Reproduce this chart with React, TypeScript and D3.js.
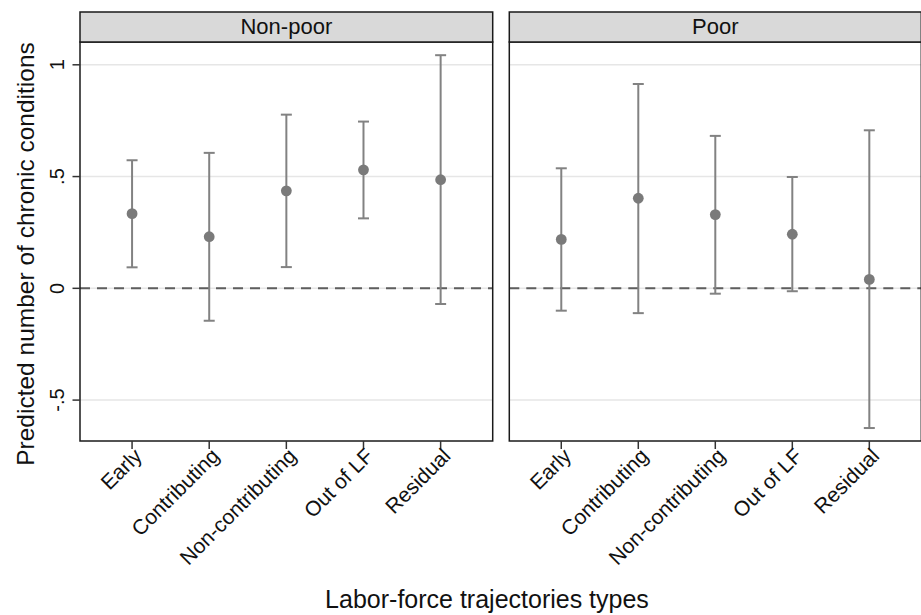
import React from "react";
import * as d3 from "d3";

// labor-force trajectory types (x categories)
const categories = ["Early", "Contributing", "Non-contributing", "Out of LF", "Residual"];
const panels = ["Non-poor", "Poor"];

// predicted number of chronic conditions, with 95% CI
const nonPoorEst = [0.334, 0.231, 0.436, 0.53, 0.486];
const nonPoorLo = [0.094, -0.145, 0.095, 0.313, -0.07];
const nonPoorHi = [0.573, 0.606, 0.777, 0.746, 1.043];

const poorEst = [0.219, 0.403, 0.33, 0.242, 0.04];
const poorLo = [-0.1, -0.111, -0.024, -0.013, -0.625];
const poorHi = [0.537, 0.914, 0.682, 0.498, 0.707];

const yTicks = [-0.5, 0, 0.5, 1];
const yTickLabels = ["-.5", "0", ".5", "1"];

const W = 921;
const H = 615;
const top = 42;
const bottom = 441;
const headerTop = 12;
const panelX = [
  [80, 492.7],
  [509.3, 921.3],
];
const FONT = "'Liberation Sans', Arial, Helvetica, sans-serif";

export default function App() {
  const y = d3.scaleLinear().domain([-0.683, 1.102]).range([bottom, top]);
  const series = [
    { est: nonPoorEst, lo: nonPoorLo, hi: nonPoorHi },
    { est: poorEst, lo: poorLo, hi: poorHi },
  ];

  return (
    <svg
      width={W}
      height={H}
      style={{ position: "absolute", left: 0, top: 0, background: "#fff", fontFamily: FONT }}
    >
      {panels.map((name, p) => {
        const [x0, x1] = panelX[p];
        const x = d3.scalePoint<string>().domain(categories).range([x0, x1]).padding(0.675);
        const s = series[p];
        return (
          <g key={name}>
            {/* grid */}
            {yTicks.map((t) => (
              <line key={t} x1={x0} x2={x1} y1={y(t)} y2={y(t)} stroke="#e6e6e6" strokeWidth={1.5} />
            ))}
            {/* zero reference */}
            <line
              x1={x0}
              x2={x1}
              y1={y(0)}
              y2={y(0)}
              stroke="#5e5e5e"
              strokeWidth={2}
              strokeDasharray="10,7"
            />
            {/* error bars */}
            {categories.map((c, i) => {
              const cx = x(c)!;
              return (
                <g key={c}>
                  <line x1={cx} x2={cx} y1={y(s.lo[i])} y2={y(s.hi[i])} stroke="#828282" strokeWidth={2} />
                  <line x1={cx - 5.5} x2={cx + 5.5} y1={y(s.lo[i])} y2={y(s.lo[i])} stroke="#828282" strokeWidth={2} />
                  <line x1={cx - 5.5} x2={cx + 5.5} y1={y(s.hi[i])} y2={y(s.hi[i])} stroke="#828282" strokeWidth={2} />
                  <circle cx={cx} cy={y(s.est[i])} r={5.4} fill="#7a7a7a" />
                </g>
              );
            })}
            {/* frame */}
            <rect x={x0} y={top} width={x1 - x0} height={bottom - top} fill="none" stroke="#1a1a1a" strokeWidth={1.5} />
            {/* header strip */}
            <rect
              x={x0}
              y={headerTop}
              width={x1 - x0}
              height={top - headerTop}
              fill="#d9d9d9"
              stroke="#1a1a1a"
              strokeWidth={1.5}
            />
            <text x={(x0 + x1) / 2} y={34} textAnchor="middle" fontSize={22} fill="#111">
              {name}
            </text>
            {/* x ticks + labels */}
            {categories.map((c) => {
              const cx = x(c)!;
              return (
                <g key={c}>
                  <line x1={cx} x2={cx} y1={bottom} y2={bottom + 8} stroke="#333" strokeWidth={1.5} />
                  <text
                    transform={`translate(${cx + 6},${bottom + 11}) rotate(-45)`}
                    textAnchor="end"
                    dy="0.35em"
                    fontSize={21}
                    fill="#111"
                  >
                    {c}
                  </text>
                </g>
              );
            })}
          </g>
        );
      })}
      {/* y axis ticks on the left panel */}
      {yTicks.map((t, i) => (
        <g key={t}>
          <line x1={72.5} x2={80} y1={y(t)} y2={y(t)} stroke="#333" strokeWidth={1.5} />
          <text
            transform={`translate(64,${y(t)}) rotate(-90)`}
            textAnchor="middle"
            fontSize={20}
            fill="#111"
          >
            {yTickLabels[i]}
          </text>
        </g>
      ))}
      <text
        transform={`translate(34,254) rotate(-90)`}
        textAnchor="middle"
        fontSize={24.5}
        fill="#111"
      >
        Predicted number of chronic conditions
      </text>
      <text x={487} y={608} textAnchor="middle" fontSize={25} fill="#111">
        Labor-force trajectories types
      </text>
    </svg>
  );
}
